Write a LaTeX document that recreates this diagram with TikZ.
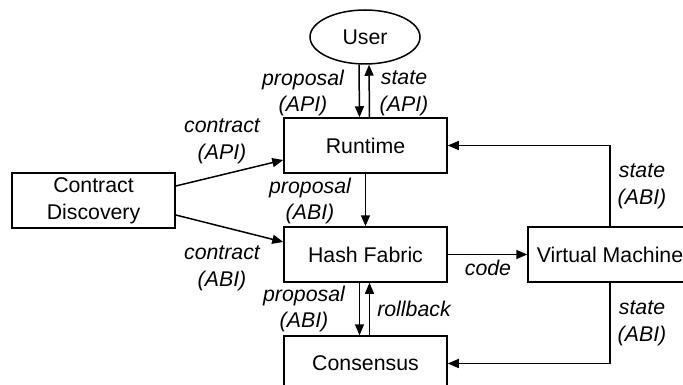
\documentclass[tikz,border=0pt]{standalone}
\usepackage{fontspec}
\setmainfont{Liberation Sans}
\usetikzlibrary{arrows.meta,shapes.geometric}

\begin{document}
\begin{tikzpicture}[x=1pt, y=-1pt,
    every node/.style={font=\fontsize{21.3}{26.7}\selectfont},
    block/.style={draw, line width=1.5pt, minimum width=163pt, minimum height=55pt, inner sep=0pt, align=center},
    msg/.style={font=\fontsize{21.3}{26.7}\selectfont\itshape, align=center},
    flow/.style={-{Triangle[length=11pt,width=9pt]}, line width=1.5pt}]
  \useasboundingbox (0,0) rectangle (683,385);

  % Components
  \node[draw, ellipse, line width=1.5pt, minimum width=110pt, minimum height=54pt, inner sep=0pt] (user) at (365, 37) {User};
  \node[block] (runtime) at (365.5, 145.5) {Runtime};
  \node[block] (hash) at (365.5, 254.5) {Hash Fabric};
  \node[block] (consensus) at (365.5, 363.5) {Consensus};
  \node[block] (discovery) at (93.5, 200.5) {Contract\\Discovery};
  \node[block, minimum width=164pt] (vm) at (610, 254.5) {Virtual Machine};

  % User <-> Runtime
  \draw[flow] ([xshift=-6pt]user.south) -- ([xshift=-6pt]runtime.north);
  \draw[flow] ([xshift=4pt]runtime.north) -- ([xshift=4pt]user.south);
  \node[msg] (propapi) at (303, 93) {proposal\\(API)};
  \node[msg] (stateapi) at (404, 93) {state\\(API)};

  % Contract discovery feeds both layers
  \draw[flow] ([yshift=14.5pt]discovery.east) -- ([yshift=-14.5pt]runtime.west);
  \draw[flow] ([yshift=-14.5pt]discovery.east) -- ([yshift=12.5pt]hash.west);
  \node[msg] (contrapi) at (222, 141) {contract\\(API)};
  \node[msg] (contrabi) at (222, 268) {contract\\(ABI)};

  % Runtime -> Hash Fabric
  \draw[flow] (runtime.south) -- (hash.north);
  \node[msg] (propabi) at (310, 201) {proposal\\(ABI)};

  % Hash Fabric <-> Consensus
  \draw[flow] ([xshift=-6pt]hash.south) -- ([xshift=-6pt]consensus.north);
  \draw[flow] ([xshift=4pt]consensus.north) -- ([xshift=4pt]hash.south);
  \node[msg] (propcons) at (304, 309) {proposal\\(ABI)};
  \node[msg] (rollback) at (414, 309) {rollback};

  % Virtual machine
  \draw[flow] (hash.east) -- (vm.west);
  \node[msg] (code) at (488, 268) {code};
  \draw[flow] (vm.north) |- (runtime.east);
  \draw[flow] (vm.south) |- (consensus.east);
  \node[msg] (stateup) at (642, 186) {state\\(ABI)};
  \node[msg] (statedown) at (642, 323) {state\\(ABI)};
\end{tikzpicture}
\end{document}
